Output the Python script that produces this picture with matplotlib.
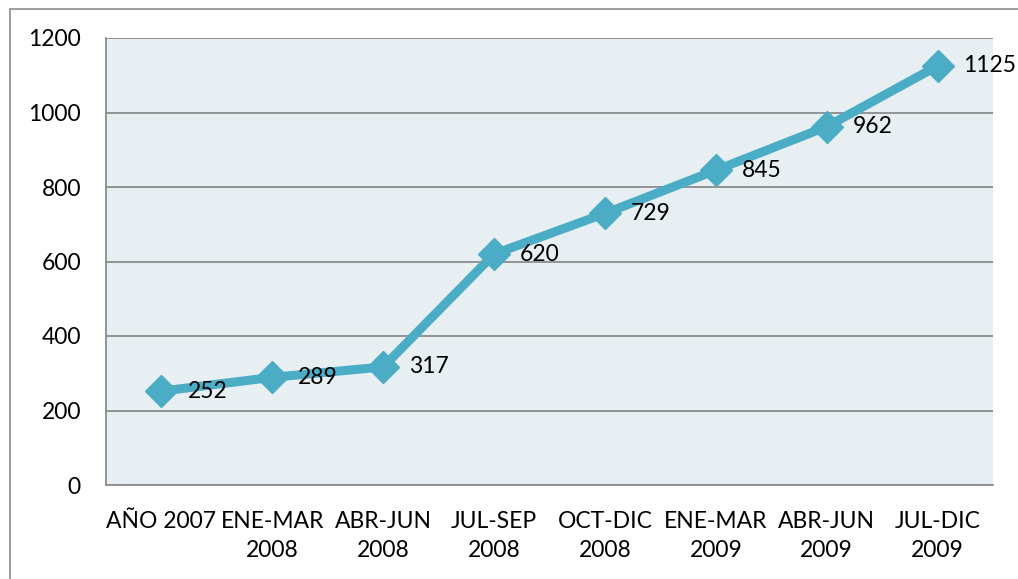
import matplotlib
matplotlib.use('Agg')
import matplotlib.pyplot as plt
from matplotlib.patches import Rectangle

# Datos
categorias = ['AÑO 2007', 'ENE-MAR\n2008', 'ABR-JUN\n2008', 'JUL-SEP\n2008',
              'OCT-DIC\n2008', 'ENE-MAR\n2009', 'ABR-JUN\n2009', 'JUL-DIC\n2009']
valores = [252, 289, 317, 620, 729, 845, 962, 1125]
y_ticks = [0, 200, 400, 600, 800, 1000, 1200]

COLOR_LINEA = '#4BACC6'
COLOR_FONDO = '#E8EFF3'
COLOR_GRID = '#8C8C8C'
TAM = 16.5

plt.rcParams['font.family'] = ['Lato', 'DejaVu Sans']

fig = plt.figure(figsize=(10.18, 5.79), dpi=100)
ax = fig.add_axes([106 / 1018, 1 - 485 / 579, 887 / 1018, 447 / 579])

# Borde exterior del gráfico
fig.patches.append(Rectangle((10 / 1018, -0.1), 1.2, 1 - 9 / 579 + 0.1,
                             transform=fig.transFigure, fill=False,
                             edgecolor='#8C8C8C', linewidth=1.2))

x = list(range(len(categorias)))
ax.plot(x, valores, color=COLOR_LINEA, linewidth=6.5, marker='D',
        markersize=16, solid_capstyle='round', zorder=3)

for xi, v in zip(x, valores):
    ax.annotate(str(v), xy=(xi, v), xytext=(26, 0), textcoords='offset pixels',
                ha='left', va='center', fontsize=TAM, color='black')

ax.set_facecolor(COLOR_FONDO)
ax.set_xlim(-0.5, len(categorias) - 0.5)
ax.set_ylim(0, 1200)
ax.set_yticks(y_ticks)
ax.set_xticks(x)
ax.set_xticklabels(categorias, fontsize=TAM, linespacing=1.45)
ax.tick_params(axis='y', length=0, pad=18, labelsize=TAM)
ax.tick_params(axis='x', length=0, pad=19)

ax.grid(axis='y', color=COLOR_GRID, linewidth=1.3)
ax.set_axisbelow(True)
for lado in ['top', 'right']:
    ax.spines[lado].set_visible(False)
for lado in ['left', 'bottom']:
    ax.spines[lado].set_color(COLOR_GRID)
    ax.spines[lado].set_linewidth(1.3)

plt.savefig('out.png', dpi=100)
plt.close()
